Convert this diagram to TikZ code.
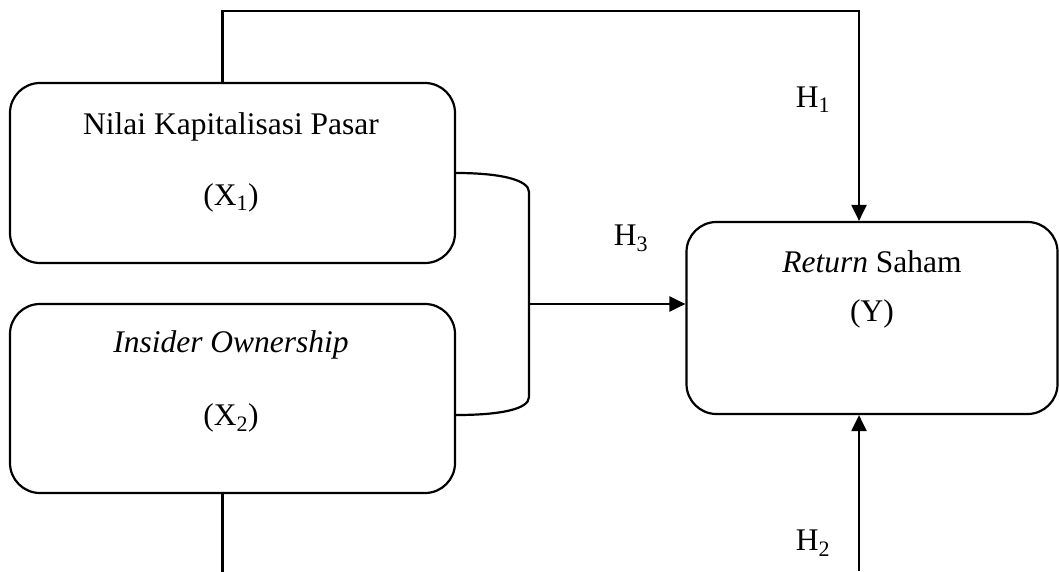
\documentclass[tikz,border=0pt]{standalone}
\usepackage{fontspec}
\setmainfont{Liberation Serif}
\usetikzlibrary{arrows.meta}

\begin{document}
\begin{tikzpicture}[
    x=1pt, y=-1pt,
    kotak/.style={draw, rounded corners=30pt, line width=2.2pt, inner sep=0pt},
    teks/.style={anchor=base, inner sep=0pt, font=\fontsize{31.5}{38}\selectfont},
    garis/.style={line width=2.2pt},
    panah/.style={garis, -{Triangle[length=16pt,width=15pt]}},
  ]
  \useasboundingbox (0,0) rectangle (1059,571);
  % kotak variabel
  \node[kotak, minimum width=445pt, minimum height=180pt] (x1) at (232.5,173) {};
  \node[kotak, minimum width=445pt, minimum height=189pt] (x2) at (232.5,398.5) {};
  \node[kotak, minimum width=371pt, minimum height=192pt] (y) at (872,318) {};
  % isi kotak
  \node[teks] (x1a) at (231,134) {Nilai Kapitalisasi Pasar};
  \node[teks] (x1b) at (231,205) {(X\textsubscript{1})};
  \node[teks] (x2a) at (231,352) {\textit{Insider Ownership}};
  \node[teks] (x2b) at (231,425) {(X\textsubscript{2})};
  \node[teks] (ya) at (872,272) {\textit{Return} Saham};
  \node[teks] (yb) at (872,321) {(Y)};
  % hipotesis
  \node[teks] (h1) at (813,107) {H\textsubscript{1}};
  \node[teks] (h3) at (631,245) {H\textsubscript{3}};
  \node[teks] (h2) at (813,550) {H\textsubscript{2}};
  % kurung gabungan X1 dan X2
  \coordinate (ka) at (529,192);
  \coordinate (kb) at (529,397);
  \coordinate (kt) at (529,304);
  \coordinate (bawah) at (859,571);
  \draw[garis] (x1.east) .. controls +(45,0) and +(0,-12) .. (ka) -- (kb)
    .. controls +(0,12) and +(45,0) .. ([yshift=-16.5pt]x2.east);
  % panah
  \draw[panah] ([xshift=-10pt]x1.north) -- ++(0,-71) -| ([xshift=-13pt]y.north);
  \draw[panah] (kt) -- (kt -| y.west);
  \draw[garis] ([xshift=-10pt]x2.south) -- ++(0,80);
  \draw[panah] (bawah) -- ([xshift=-13pt]y.south);
\end{tikzpicture}
\end{document}
